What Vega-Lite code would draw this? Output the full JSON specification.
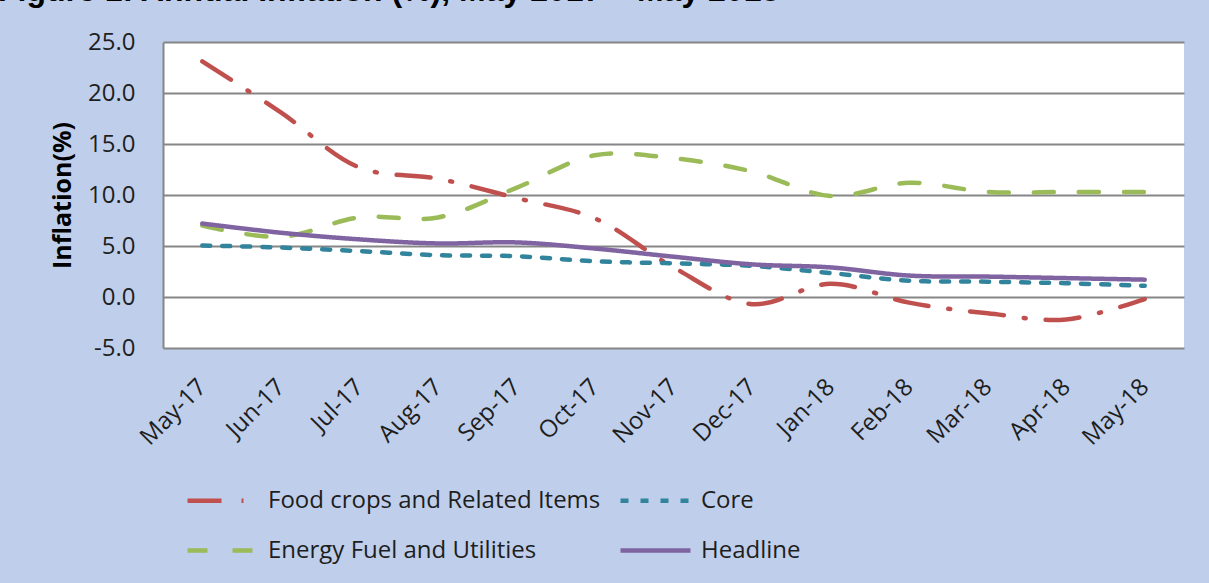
{
  "$schema": "https://vega.github.io/schema/vega-lite/v6.json",
  "width": 1021,
  "height": 306,
  "autosize": {"type": "none"},
  "padding": {"left": 163, "top": 42, "right": 25, "bottom": 235},
  "background": "#BFCFEB",
  "title": {
    "text": "Figure 1: Annual Inflation (%), May 2017 – May 2018",
    "anchor": "start",
    "frame": "group",
    "dx": -165,
    "dy": 23,
    "offset": 20,
    "baseline": "alphabetic",
    "font": "Liberation Sans",
    "fontSize": 32,
    "fontWeight": "bold",
    "color": "#000000"
  },
  "data": {
    "values": [
      {"m": "May-17", "i": 0, "Food crops and Related Items": 23.1, "Core": 5.05, "Energy Fuel and Utilities": 7.0, "Headline": 7.2},
      {"m": "Jun-17", "i": 1, "Food crops and Related Items": 18.1, "Core": 4.85, "Energy Fuel and Utilities": 5.9, "Headline": 6.3},
      {"m": "Jul-17", "i": 2, "Food crops and Related Items": 12.7, "Core": 4.5, "Energy Fuel and Utilities": 7.8, "Headline": 5.65},
      {"m": "Aug-17", "i": 3, "Food crops and Related Items": 11.6, "Core": 4.1, "Energy Fuel and Utilities": 7.8, "Headline": 5.25},
      {"m": "Sep-17", "i": 4, "Food crops and Related Items": 9.7, "Core": 4.0, "Energy Fuel and Utilities": 10.7, "Headline": 5.35},
      {"m": "Oct-17", "i": 5, "Food crops and Related Items": 7.7, "Core": 3.5, "Energy Fuel and Utilities": 13.9, "Headline": 4.75},
      {"m": "Nov-17", "i": 6, "Food crops and Related Items": 2.9, "Core": 3.3, "Energy Fuel and Utilities": 13.6, "Headline": 3.95},
      {"m": "Dec-17", "i": 7, "Food crops and Related Items": -0.7, "Core": 3.05, "Energy Fuel and Utilities": 12.3, "Headline": 3.2},
      {"m": "Jan-18", "i": 8, "Food crops and Related Items": 1.3, "Core": 2.35, "Energy Fuel and Utilities": 9.9, "Headline": 2.9},
      {"m": "Feb-18", "i": 9, "Food crops and Related Items": -0.55, "Core": 1.6, "Energy Fuel and Utilities": 11.2, "Headline": 2.1},
      {"m": "Mar-18", "i": 10, "Food crops and Related Items": -1.6, "Core": 1.5, "Energy Fuel and Utilities": 10.3, "Headline": 2.0},
      {"m": "Apr-18", "i": 11, "Food crops and Related Items": -2.2, "Core": 1.35, "Energy Fuel and Utilities": 10.3, "Headline": 1.85},
      {"m": "May-18", "i": 12, "Food crops and Related Items": -0.2, "Core": 1.1, "Energy Fuel and Utilities": 10.3, "Headline": 1.7}
    ]
  },
  "transform": [
    {"fold": ["Food crops and Related Items", "Core", "Energy Fuel and Utilities", "Headline"], "as": ["series", "value"]}
  ],
  "mark": {"type": "line", "interpolate": "catmull-rom", "strokeCap": "round", "strokeJoin": "round"},
  "encoding": {
    "x": {
      "field": "m",
      "type": "ordinal",
      "sort": ["May-17", "Jun-17", "Jul-17", "Aug-17", "Sep-17", "Oct-17", "Nov-17", "Dec-17", "Jan-18", "Feb-18", "Mar-18", "Apr-18", "May-18"],
      "scale": {"type": "point", "padding": 0.5},
      "axis": {
        "title": null,
        "labelAngle": -45,
        "labelAlign": "right",
        "labelBaseline": "middle",
        "labelPadding": 35,
        "labelOverlap": false,
        "ticks": false,
        "domain": false,
        "grid": false
      }
    },
    "y": {
      "field": "value",
      "type": "quantitative",
      "scale": {"domain": [-5, 25], "nice": false, "zero": false},
      "axis": {
        "title": "Inflation(%)",
        "values": [-5, 0, 5, 10, 15, 20, 25],
        "format": ".1f",
        "labelExpr": "replace(datum.label, '\u2212', '-')",
        "grid": true,
        "gridColor": "#868686",
        "gridWidth": 2,
        "domain": true,
        "domainColor": "#868686",
        "domainWidth": 2,
        "ticks": false,
        "labelPadding": 28,
        "titlePadding": 12,
        "titleFont": "Open Sans",
        "titleFontSize": 25,
        "titleFontWeight": "bold",
        "titleColor": "#000000"
      }
    },
    "order": {"field": "i", "type": "quantitative"},
    "color": {
      "field": "series",
      "type": "nominal",
      "title": null,
      "scale": {
        "domain": ["Food crops and Related Items", "Core", "Energy Fuel and Utilities", "Headline"],
        "range": ["#C0504D", "#31849B", "#9BBB59", "#8064A2"]
      }
    },
    "strokeDash": {
      "field": "series",
      "type": "nominal",
      "title": null,
      "scale": {
        "domain": ["Food crops and Related Items", "Core", "Energy Fuel and Utilities", "Headline"],
        "range": [[34, 20, 2, 20], [8, 12], [20, 25], [1, 0]]
      }
    },
    "strokeWidth": {
      "field": "series",
      "type": "nominal",
      "title": null,
      "scale": {
        "domain": ["Food crops and Related Items", "Core", "Energy Fuel and Utilities", "Headline"],
        "range": [4.5, 4.5, 5, 6]
      }
    }
  },
  "config": {
    "font": "Open Sans",
    "view": {"fill": "#FFFFFF", "stroke": null},
    "axis": {
      "labelFont": "Open Sans",
      "labelFontSize": 24,
      "labelColor": "#1E1E1E"
    },
    "legend": {
      "orient": "none",
      "legendX": 22,
      "legendY": 421,
      "direction": "horizontal",
      "columns": 2,
      "padding": 0,
      "symbolType": "stroke",
      "symbolSize": 4900,
      "labelFont": "Open Sans",
      "labelFontSize": 24,
      "labelColor": "#1E1E1E",
      "labelOffset": 8,
      "labelLimit": 600,
      "columnPadding": 10,
      "rowPadding": -18
    }
  }
}
